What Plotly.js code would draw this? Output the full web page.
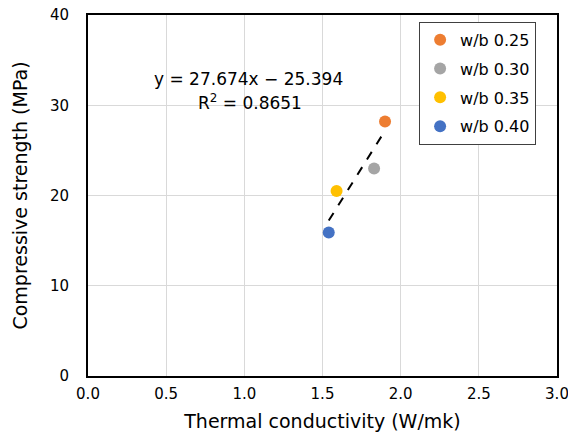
<!DOCTYPE html>
<html>
<head>
<meta charset="utf-8">
<script src="https://cdn.plot.ly/plotly-3.0.1.min.js"></script>
<style>html,body{margin:0;padding:0;background:#fff;}#chart{width:568px;height:433px;}</style>
</head>
<body>
<div id="chart"></div>
<script>
const seriesNames = ['w/b 0.25', 'w/b 0.30', 'w/b 0.35', 'w/b 0.40'];
const thermalConductivity = [1.90, 1.83, 1.59, 1.54];
const compressiveStrength = [28.2, 23.0, 20.5, 15.9];
const seriesColors = ['#ED7D31', '#A5A5A5', '#FFC000', '#4472C4'];
const trendSlope = 27.674;
const trendIntercept = -25.394;
const trendX = [1.54, 1.90];
const trendLabel = ['y = 27.674x − 25.394', 'R<sup>2</sup> = 0.8651'];
const xTicks = [0, 0.5, 1.0, 1.5, 2.0, 2.5, 3.0];
const yTicks = [0, 10, 20, 30, 40];

const FONT = 'DejaVu Sans, Liberation Sans, Arial, sans-serif';

const traces = seriesNames.map((name, i) => ({
  type: 'scatter', mode: 'markers', name: name,
  x: [thermalConductivity[i]], y: [compressiveStrength[i]],
  legendgroup: 'g' + i,
  marker: {color: seriesColors[i], size: 12, line: {width: 0}},
  cliponaxis: false
}));
traces.push({
  type: 'scatter', mode: 'lines', showlegend: false,
  x: trendX, y: trendX.map(v => trendSlope * v + trendIntercept),
  line: {color: '#000', width: 2, dash: 'dash'}, hoverinfo: 'skip'
});

const layout = {
  width: 568, height: 433,
  margin: {l: 88, r: 11, t: 15, b: 57},
  paper_bgcolor: '#fff', plot_bgcolor: '#fff',
  font: {family: FONT, color: '#000', size: 15},
  showlegend: true,
  xaxis: {
    range: [0, 3], tickvals: xTicks, ticktext: xTicks.map(v => v.toFixed(1)),
    showgrid: true, gridcolor: '#d9d9d9', gridwidth: 1,
    showline: true, linecolor: '#000', linewidth: 2, mirror: true,
    ticks: '', zeroline: false, tickfont: {size: 15, family: FONT}, ticklabelstandoff: 3,
    ticklabeloverflow: 'allow',
    title: {text: 'Thermal conductivity (W/mk)', font: {size: 19, family: FONT}, standoff: 13}
  },
  yaxis: {
    range: [0, 40], tickvals: yTicks,
    showgrid: true, gridcolor: '#d9d9d9', gridwidth: 1,
    showline: true, linecolor: '#000', linewidth: 2, mirror: true,
    ticks: '', zeroline: false, tickfont: {size: 15, family: FONT}, ticklabelstandoff: 14,
    title: {text: 'Compressive strength (MPa)', font: {size: 19, family: FONT}, standoff: 17}
  },
  legend: {
    x: 0.706, y: 0.981, xanchor: 'left', yanchor: 'top',
    bgcolor: '#fff', bordercolor: '#404040', borderwidth: 1,
    font: {size: 16, family: FONT}, tracegroupgap: 5, itemwidth: 30
  },
  annotations: [
    {xref: 'paper', yref: 'paper', x: (248 - 88) / 469, y: (376 - 79) / 361,
     text: trendLabel[0], showarrow: false, xanchor: 'center', yanchor: 'middle', font: {size: 17, family: FONT}},
    {xref: 'paper', yref: 'paper', x: (250 - 88) / 469, y: (376 - 102) / 361,
     text: trendLabel[1], showarrow: false, xanchor: 'center', yanchor: 'middle', font: {size: 17, family: FONT}}
  ]
};

Plotly.newPlot('chart', traces, layout, {displayModeBar: false, staticPlot: true});
</script>
</body>
</html>
